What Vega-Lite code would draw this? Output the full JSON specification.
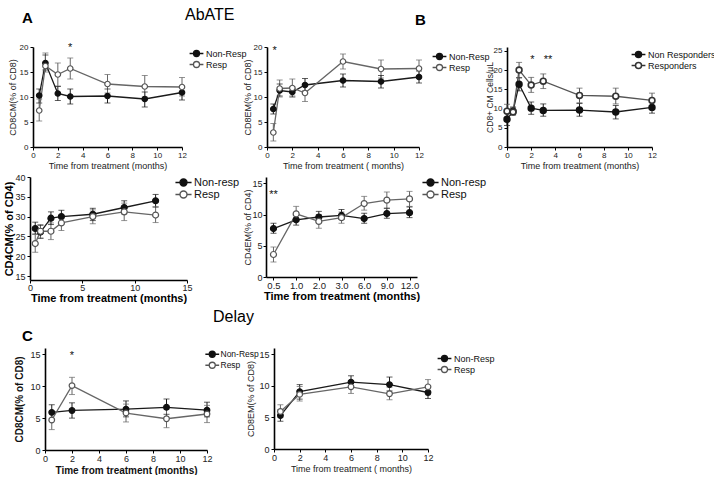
{
"$schema": "https://vega.github.io/schema/vega-lite/v6.json",
"background": "white",
"padding": 0,
"spacing": 0,
"bounds": "flush",
"resolve": {"scale": {"color": "independent", "fill": "independent", "stroke": "independent"}},
"config": {
  "view": {"stroke": null},
  "font": "Liberation Sans",
  "axis": {"grid": false, "domainColor": "#000", "domainWidth": 1.6, "tickColor": "#000", "tickWidth": 1, "tickSize": 3, "labelColor": "#222", "titleColor": "#222", "labelFont": "Liberation Sans", "titleFont": "Liberation Sans", "labelFontSize": 8, "titleFontSize": 9, "titleFontWeight": "normal", "labelFlush": false, "labelPadding": 1, "titlePadding": 2, "labelOverlap": false},
  "title": {"font": "Liberation Sans", "color": "#000", "anchor": "start", "baseline": "alphabetic", "frame": "group"},
  "legend": {"labelFont": "Liberation Sans", "labelColor": "#111"}
},
"datasets": {
  "a1": [
    {"t":0.5,"g":"Non-Resp","m":10.3,"lo":8.8,"hi":11.6},{"t":1,"g":"Non-Resp","m":16.8,"lo":15.4,"hi":18.4},{"t":2,"g":"Non-Resp","m":10.7,"lo":9.3,"hi":12.1},{"t":3,"g":"Non-Resp","m":10.1,"lo":8.6,"hi":11.6},{"t":6,"g":"Non-Resp","m":10.2,"lo":8.8,"hi":11.6},{"t":9,"g":"Non-Resp","m":9.6,"lo":8.0,"hi":11.0},{"t":12,"g":"Non-Resp","m":10.9,"lo":9.4,"hi":12.2},
    {"t":0.5,"g":"Resp","m":7.3,"lo":5.2,"hi":9.6},{"t":1,"g":"Resp","m":16.2,"lo":15.0,"hi":18.8},{"t":2,"g":"Resp","m":14.5,"lo":12.2,"hi":16.8},{"t":3,"g":"Resp","m":15.7,"lo":13.6,"hi":17.8},{"t":6,"g":"Resp","m":12.6,"lo":10.8,"hi":14.5},{"t":9,"g":"Resp","m":12.1,"lo":10.0,"hi":14.3},{"t":12,"g":"Resp","m":12.0,"lo":10.2,"hi":13.9}
  ],
  "a2": [
    {"t":0.5,"g":"Non-Resp","m":7.6,"lo":6.6,"hi":8.6},{"t":1,"g":"Non-Resp","m":11.3,"lo":10.2,"hi":12.6},{"t":2,"g":"Non-Resp","m":11.0,"lo":10.0,"hi":12.0},{"t":3,"g":"Non-Resp","m":12.4,"lo":11.2,"hi":13.7},{"t":6,"g":"Non-Resp","m":13.3,"lo":12.0,"hi":14.6},{"t":9,"g":"Non-Resp","m":13.1,"lo":11.8,"hi":14.3},{"t":12,"g":"Non-Resp","m":14.0,"lo":12.8,"hi":15.2},
    {"t":0.5,"g":"Resp","m":2.9,"lo":1.2,"hi":4.7},{"t":1,"g":"Resp","m":11.7,"lo":10.0,"hi":13.4},{"t":2,"g":"Resp","m":11.8,"lo":10.2,"hi":13.6},{"t":3,"g":"Resp","m":10.8,"lo":9.1,"hi":12.5},{"t":6,"g":"Resp","m":17.1,"lo":15.6,"hi":18.6},{"t":9,"g":"Resp","m":15.6,"lo":13.8,"hi":17.4},{"t":12,"g":"Resp","m":15.7,"lo":14.2,"hi":17.4}
  ],
  "b": [
    {"t":0,"g":"Non Responders","m":7.2,"lo":5.6,"hi":8.8},{"t":0.5,"g":"Non Responders","m":9.3,"lo":8.4,"hi":10.4},{"t":1,"g":"Non Responders","m":16.3,"lo":14.6,"hi":18.0},{"t":2,"g":"Non Responders","m":10.1,"lo":8.5,"hi":11.7},{"t":3,"g":"Non Responders","m":9.5,"lo":8.0,"hi":11.2},{"t":6,"g":"Non Responders","m":9.6,"lo":8.0,"hi":11.3},{"t":9,"g":"Non Responders","m":9.1,"lo":7.3,"hi":10.8},{"t":12,"g":"Non Responders","m":10.3,"lo":8.8,"hi":11.8},
    {"t":0,"g":"Responders","m":9.3,"lo":7.6,"hi":11.1},{"t":0.5,"g":"Responders","m":9.1,"lo":8.3,"hi":10.2},{"t":1,"g":"Responders","m":20.0,"lo":18.0,"hi":22.0},{"t":2,"g":"Responders","m":16.1,"lo":14.2,"hi":18.1},{"t":3,"g":"Responders","m":17.1,"lo":15.2,"hi":19.0},{"t":6,"g":"Responders","m":13.4,"lo":11.5,"hi":15.3},{"t":9,"g":"Responders","m":13.2,"lo":11.2,"hi":15.3},{"t":12,"g":"Responders","m":12.1,"lo":10.3,"hi":14.0}
  ],
  "a3": [
    {"t":0.5,"g":"Non-resp","m":27.0,"lo":25.6,"hi":28.6},{"t":1,"g":"Non-resp","m":26.1,"lo":24.5,"hi":27.8},{"t":2,"g":"Non-resp","m":29.6,"lo":28.0,"hi":31.2},{"t":3,"g":"Non-resp","m":30.0,"lo":28.4,"hi":31.6},{"t":6,"g":"Non-resp","m":30.6,"lo":29.0,"hi":32.1},{"t":9,"g":"Non-resp","m":32.3,"lo":30.7,"hi":34.0},{"t":12,"g":"Non-resp","m":34.0,"lo":32.4,"hi":35.6},
    {"t":0.5,"g":"Resp","m":23.2,"lo":21.0,"hi":25.5},{"t":1,"g":"Resp","m":26.3,"lo":24.6,"hi":28.0},{"t":2,"g":"Resp","m":26.3,"lo":24.2,"hi":28.4},{"t":3,"g":"Resp","m":28.4,"lo":26.5,"hi":30.4},{"t":6,"g":"Resp","m":30.0,"lo":28.2,"hi":31.7},{"t":9,"g":"Resp","m":31.2,"lo":29.0,"hi":33.4},{"t":12,"g":"Resp","m":30.4,"lo":28.5,"hi":32.5}
  ],
  "a4": [
    {"t":"0.5","g":"Non-resp","m":7.75,"lo":7.0,"hi":8.6},{"t":"1.0","g":"Non-resp","m":9.15,"lo":8.3,"hi":10.0},{"t":"2.0","g":"Non-resp","m":9.6,"lo":8.9,"hi":10.5},{"t":"3.0","g":"Non-resp","m":9.85,"lo":9.2,"hi":10.8},{"t":"6.0","g":"Non-resp","m":9.35,"lo":8.6,"hi":10.2},{"t":"9.0","g":"Non-resp","m":10.15,"lo":9.4,"hi":11.0},{"t":"12.0","g":"Non-resp","m":10.3,"lo":9.5,"hi":11.2},
    {"t":"0.5","g":"Resp","m":3.6,"lo":2.4,"hi":4.8},{"t":"1.0","g":"Resp","m":10.1,"lo":9.0,"hi":11.3},{"t":"2.0","g":"Resp","m":8.9,"lo":7.8,"hi":10.0},{"t":"3.0","g":"Resp","m":9.5,"lo":8.6,"hi":10.4},{"t":"6.0","g":"Resp","m":11.75,"lo":10.7,"hi":12.9},{"t":"9.0","g":"Resp","m":12.3,"lo":11.0,"hi":13.6},{"t":"12.0","g":"Resp","m":12.5,"lo":11.3,"hi":13.7}
  ],
  "c1": [
    {"t":0.5,"g":"Non-Resp","m":5.9,"lo":4.6,"hi":7.1},{"t":2,"g":"Non-Resp","m":6.2,"lo":5.0,"hi":7.4},{"t":6,"g":"Non-Resp","m":6.4,"lo":5.2,"hi":7.7},{"t":9,"g":"Non-Resp","m":6.7,"lo":5.6,"hi":8.0},{"t":12,"g":"Non-Resp","m":6.25,"lo":5.2,"hi":7.5},
    {"t":0.5,"g":"Resp","m":4.7,"lo":3.2,"hi":6.0},{"t":2,"g":"Resp","m":10.1,"lo":8.7,"hi":11.4},{"t":6,"g":"Resp","m":5.8,"lo":4.4,"hi":7.2},{"t":9,"g":"Resp","m":4.9,"lo":3.5,"hi":6.4},{"t":12,"g":"Resp","m":5.65,"lo":4.3,"hi":7.0}
  ],
  "c2": [
    {"t":0.5,"g":"Non-Resp","m":5.3,"lo":4.4,"hi":6.2},{"t":2,"g":"Non-Resp","m":9.1,"lo":7.9,"hi":10.2},{"t":6,"g":"Non-Resp","m":10.6,"lo":9.8,"hi":11.6},{"t":9,"g":"Non-Resp","m":10.2,"lo":9.2,"hi":11.4},{"t":12,"g":"Non-Resp","m":8.95,"lo":8.0,"hi":10.0},
    {"t":0.5,"g":"Resp","m":5.95,"lo":5.0,"hi":7.0},{"t":2,"g":"Resp","m":8.65,"lo":7.6,"hi":9.9},{"t":6,"g":"Resp","m":9.85,"lo":8.8,"hi":10.8},{"t":9,"g":"Resp","m":8.75,"lo":7.8,"hi":9.8},{"t":12,"g":"Resp","m":9.85,"lo":8.6,"hi":11.0}
  ],
  "stars": [
    {"p":"a1","t":3,"v":19.2,"s":"*"},
    {"p":"a2","t":0.6,"v":18.6,"s":"*"},
    {"p":"b","t":2.1,"v":21.8,"s":"*"},
    {"p":"b","t":3.4,"v":21.8,"s":"**"},
    {"p":"a4","t":"0.5","v":12.7,"s":"**"},
    {"p":"c1","t":2,"v":14.2,"s":"*"}
  ]
},
"vconcat": [
  {"width": 10, "height": 47, "data": {"values": [{}]}, "mark": {"type": "rect", "fill": "transparent"}, "encoding": {}},
  {
    "hconcat": [
      {"width": 33, "height": 1, "data": {"values": []}, "mark": "point", "encoding": {}},
      {
        "width": 149, "height": 100,
        "data": {"name": "a1"},
        "title": {"text": "A", "fontSize": 15, "fontWeight": "bold", "dx": -11, "offset": 16},
        "encoding": {"x": {"field": "t", "type": "quantitative", "scale": {"domain": [0, 12]}, "axis": {"values": [0,2,4,6,8,10,12], "title": "Time from treatment (months)"}}},
        "layer": [
          {"mark": {"type": "rule", "strokeWidth": 1}, "encoding": {"y": {"field": "lo", "type": "quantitative", "scale": {"domain": [0, 20]}, "axis": {"values": [0,5,10,15,20], "title": "CD8CM(% of CD8)", "labelPadding": 2, "titlePadding": 2}}, "y2": {"field": "hi"}, "color": {"field": "g", "type": "nominal", "scale": {"range": ["#1a1a1a", "#666666"]}, "legend": null}}},
          {"mark": {"type": "tick", "orient": "horizontal", "size": 6, "thickness": 1}, "encoding": {"y": {"field": "lo", "type": "quantitative", "axis": {"values": [0,5,10,15,20], "title": "CD8CM(% of CD8)", "labelPadding": 2, "titlePadding": 2}}, "color": {"field": "g", "type": "nominal", "legend": null}}},
          {"mark": {"type": "tick", "orient": "horizontal", "size": 6, "thickness": 1}, "encoding": {"y": {"field": "hi", "type": "quantitative", "axis": {"values": [0,5,10,15,20], "title": "CD8CM(% of CD8)", "labelPadding": 2, "titlePadding": 2}}, "color": {"field": "g", "type": "nominal", "legend": null}}},
          {"mark": {"type": "line", "strokeWidth": 1.3}, "encoding": {"y": {"field": "m", "type": "quantitative", "axis": {"values": [0,5,10,15,20], "title": "CD8CM(% of CD8)", "labelPadding": 2, "titlePadding": 2}}, "color": {"field": "g", "type": "nominal", "legend": null}}},
          {"mark": {"type": "point", "shape": "circle", "filled": true, "size": 30, "strokeWidth": 1.2, "opacity": 1}, "encoding": {"y": {"field": "m", "type": "quantitative", "axis": {"values": [0,5,10,15,20], "title": "CD8CM(% of CD8)", "labelPadding": 2, "titlePadding": 2}},
            "fill": {"field": "g", "type": "nominal", "scale": {"range": ["#111111", "#ffffff"]}, "legend": {"title": null, "orient": "none", "legendX": 159, "legendY": 2, "symbolType": "M-2.3,0H-1M1,0H2.3M1,0A1,1,0,1,1,-1,0A1,1,0,1,1,1,0Z", "symbolSize": 36, "symbolStrokeWidth": 1.3, "labelFontSize": 9, "labelOffset": 5, "rowPadding": -2, "padding": 0}},
            "stroke": {"field": "g", "type": "nominal", "scale": {"range": ["#111111", "#555555"]}, "legend": {"title": null, "orient": "none", "legendX": 159, "legendY": 2, "symbolType": "M-2.3,0H-1M1,0H2.3M1,0A1,1,0,1,1,-1,0A1,1,0,1,1,1,0Z", "symbolSize": 36, "symbolStrokeWidth": 1.3, "labelFontSize": 9, "labelOffset": 5, "rowPadding": -2, "padding": 0}}}},
          {"data": {"name": "stars"}, "transform": [{"filter": "datum.p == 'a1'"}], "mark": {"type": "text", "fontSize": 11, "baseline": "alphabetic", "fill": "#111"}, "encoding": {"y": {"field": "v", "type": "quantitative", "axis": {"values": [0,5,10,15,20], "title": "CD8CM(% of CD8)", "labelPadding": 2, "titlePadding": 2}}, "text": {"field": "s"}}}
        ]
      },
      {"width": 85, "height": 1, "data": {"values": []}, "mark": "point", "encoding": {}},
      {
        "width": 152, "height": 100,
        "data": {"name": "a2"},
        "title": {"text": "AbATE", "fontSize": 16, "fontWeight": "normal", "dx": -82, "offset": 20},
        "encoding": {"x": {"field": "t", "type": "quantitative", "scale": {"domain": [0, 12]}, "axis": {"values": [0,2,4,6,8,10,12], "title": "Time from treatment ( months)"}}},
        "layer": [
          {"mark": {"type": "rule", "strokeWidth": 1}, "encoding": {"y": {"field": "lo", "type": "quantitative", "scale": {"domain": [0, 20]}, "axis": {"values": [0,5,10,15,20], "title": "CD8EM(% of CD8)", "labelPadding": 2, "titlePadding": 1}}, "y2": {"field": "hi"}, "color": {"field": "g", "type": "nominal", "scale": {"range": ["#1a1a1a", "#666666"]}, "legend": null}}},
          {"mark": {"type": "tick", "orient": "horizontal", "size": 6, "thickness": 1}, "encoding": {"y": {"field": "lo", "type": "quantitative", "axis": {"values": [0,5,10,15,20], "title": "CD8EM(% of CD8)", "labelPadding": 2, "titlePadding": 1}}, "color": {"field": "g", "type": "nominal", "legend": null}}},
          {"mark": {"type": "tick", "orient": "horizontal", "size": 6, "thickness": 1}, "encoding": {"y": {"field": "hi", "type": "quantitative", "axis": {"values": [0,5,10,15,20], "title": "CD8EM(% of CD8)", "labelPadding": 2, "titlePadding": 1}}, "color": {"field": "g", "type": "nominal", "legend": null}}},
          {"mark": {"type": "line", "strokeWidth": 1.3}, "encoding": {"y": {"field": "m", "type": "quantitative", "axis": {"values": [0,5,10,15,20], "title": "CD8EM(% of CD8)", "labelPadding": 2, "titlePadding": 1}}, "color": {"field": "g", "type": "nominal", "legend": null}}},
          {"mark": {"type": "point", "shape": "circle", "filled": true, "size": 30, "strokeWidth": 1.2, "opacity": 1}, "encoding": {"y": {"field": "m", "type": "quantitative", "axis": {"values": [0,5,10,15,20], "title": "CD8EM(% of CD8)", "labelPadding": 2, "titlePadding": 1}},
            "fill": {"field": "g", "type": "nominal", "scale": {"range": ["#111111", "#ffffff"]}, "legend": {"title": null, "orient": "none", "legendX": 168, "legendY": 5, "symbolType": "M-2.3,0H-1M1,0H2.3M1,0A1,1,0,1,1,-1,0A1,1,0,1,1,1,0Z", "symbolSize": 36, "symbolStrokeWidth": 1.3, "labelFontSize": 9, "labelOffset": 5, "rowPadding": -2, "padding": 0}},
            "stroke": {"field": "g", "type": "nominal", "scale": {"range": ["#111111", "#555555"]}, "legend": {"title": null, "orient": "none", "legendX": 168, "legendY": 5, "symbolType": "M-2.3,0H-1M1,0H2.3M1,0A1,1,0,1,1,-1,0A1,1,0,1,1,1,0Z", "symbolSize": 36, "symbolStrokeWidth": 1.3, "labelFontSize": 9, "labelOffset": 5, "rowPadding": -2, "padding": 0}}}},
          {"data": {"name": "stars"}, "transform": [{"filter": "datum.p == 'a2'"}], "mark": {"type": "text", "fontSize": 11, "baseline": "alphabetic", "fill": "#111"}, "encoding": {"y": {"field": "v", "type": "quantitative", "axis": {"values": [0,5,10,15,20], "title": "CD8EM(% of CD8)", "labelPadding": 2, "titlePadding": 1}}, "text": {"field": "s"}}}
        ]
      },
      {"width": 88, "height": 1, "data": {"values": []}, "mark": "point", "encoding": {}},
      {
        "width": 145, "height": 100,
        "data": {"name": "b"},
        "title": {"text": "B", "fontSize": 15, "fontWeight": "bold", "dx": -92, "offset": 19},
        "encoding": {"x": {"field": "t", "type": "quantitative", "scale": {"domain": [0, 12]}, "axis": {"values": [0,2,4,6,8,10,12], "title": "Time from treatment (months)"}}},
        "layer": [
          {"mark": {"type": "rule", "strokeWidth": 1}, "encoding": {"y": {"field": "lo", "type": "quantitative", "scale": {"domain": [0, 25]}, "axis": {"values": [0,5,10,15,20,25], "title": "CD8+ CM Cells/µL", "labelPadding": 2, "titlePadding": -1, "titleFontSize": 8.5}}, "y2": {"field": "hi"}, "color": {"field": "g", "type": "nominal", "scale": {"range": ["#1a1a1a", "#555555"]}, "legend": null}}},
          {"mark": {"type": "tick", "orient": "horizontal", "size": 6, "thickness": 1}, "encoding": {"y": {"field": "lo", "type": "quantitative", "axis": {"values": [0,5,10,15,20,25], "title": "CD8+ CM Cells/µL", "labelPadding": 2, "titlePadding": -1, "titleFontSize": 8.5}}, "color": {"field": "g", "type": "nominal", "legend": null}}},
          {"mark": {"type": "tick", "orient": "horizontal", "size": 6, "thickness": 1}, "encoding": {"y": {"field": "hi", "type": "quantitative", "axis": {"values": [0,5,10,15,20,25], "title": "CD8+ CM Cells/µL", "labelPadding": 2, "titlePadding": -1, "titleFontSize": 8.5}}, "color": {"field": "g", "type": "nominal", "legend": null}}},
          {"mark": {"type": "line", "strokeWidth": 1.3}, "encoding": {"y": {"field": "m", "type": "quantitative", "axis": {"values": [0,5,10,15,20,25], "title": "CD8+ CM Cells/µL", "labelPadding": 2, "titlePadding": -1, "titleFontSize": 8.5}}, "color": {"field": "g", "type": "nominal", "legend": null}}},
          {"mark": {"type": "point", "shape": "circle", "filled": true, "size": 34, "strokeWidth": 1.6, "opacity": 1}, "encoding": {"y": {"field": "m", "type": "quantitative", "axis": {"values": [0,5,10,15,20,25], "title": "CD8+ CM Cells/µL", "labelPadding": 2, "titlePadding": -1, "titleFontSize": 8.5}},
            "fill": {"field": "g", "type": "nominal", "scale": {"range": ["#111111", "#ffffff"]}, "legend": {"title": null, "orient": "none", "legendX": 127, "legendY": 3, "symbolType": "M-2.3,0H-1M1,0H2.3M1,0A1,1,0,1,1,-1,0A1,1,0,1,1,1,0Z", "symbolSize": 36, "symbolStrokeWidth": 1.5, "labelFontSize": 9, "labelOffset": 5, "rowPadding": -2, "padding": 0}},
            "stroke": {"field": "g", "type": "nominal", "scale": {"range": ["#111111", "#333333"]}, "legend": {"title": null, "orient": "none", "legendX": 127, "legendY": 3, "symbolType": "M-2.3,0H-1M1,0H2.3M1,0A1,1,0,1,1,-1,0A1,1,0,1,1,1,0Z", "symbolSize": 36, "symbolStrokeWidth": 1.5, "labelFontSize": 9, "labelOffset": 5, "rowPadding": -2, "padding": 0}}}},
          {"data": {"name": "stars"}, "transform": [{"filter": "datum.p == 'b'"}], "mark": {"type": "text", "fontSize": 11, "baseline": "alphabetic", "fill": "#111"}, "encoding": {"y": {"field": "v", "type": "quantitative", "axis": {"values": [0,5,10,15,20,25], "title": "CD8+ CM Cells/µL", "labelPadding": 2, "titlePadding": -1, "titleFontSize": 8.5}}, "text": {"field": "s"}}}
        ]
      }
    ],
    "spacing": 0,
    "bounds": "flush",
    "resolve": {"scale": {"color": "independent", "fill": "independent", "stroke": "independent"}}
  },
  {"width": 1, "height": 130, "data": {"values": []}, "mark": "point", "encoding": {}},
  {
    "hconcat": [
      {"width": 30, "height": 1, "data": {"values": []}, "mark": "point", "encoding": {}},
      {
        "width": 157, "height": 103,
        "data": {"name": "a3"},
        "encoding": {"x": {"field": "t", "type": "quantitative", "scale": {"domain": [0, 15]}, "axis": {"values": [0,5,10,15], "title": "Time from treatment (months)", "labelFontSize": 9, "titleFontSize": 11, "titleFontWeight": "bold", "titleColor": "#000", "labelPadding": 0, "titlePadding": 0}}},
        "layer": [
          {"mark": {"type": "rule", "strokeWidth": 1}, "encoding": {"y": {"field": "lo", "type": "quantitative", "scale": {"domain": [15, 40]}, "axis": {"values": [15,20,25,30,35,40], "title": "CD4CM(% of CD4)", "labelFontSize": 9, "titleFontSize": 11, "titleFontWeight": "bold", "titleColor": "#000", "labelPadding": 2, "titlePadding": 0}}, "y2": {"field": "hi"}, "color": {"field": "g", "type": "nominal", "scale": {"range": ["#1a1a1a", "#666666"]}, "legend": null}}},
          {"mark": {"type": "tick", "orient": "horizontal", "size": 6, "thickness": 1}, "encoding": {"y": {"field": "lo", "type": "quantitative", "axis": {"values": [15,20,25,30,35,40], "title": "CD4CM(% of CD4)", "labelFontSize": 9, "titleFontSize": 11, "titleFontWeight": "bold", "titleColor": "#000", "labelPadding": 2, "titlePadding": 0}}, "color": {"field": "g", "type": "nominal", "legend": null}}},
          {"mark": {"type": "tick", "orient": "horizontal", "size": 6, "thickness": 1}, "encoding": {"y": {"field": "hi", "type": "quantitative", "axis": {"values": [15,20,25,30,35,40], "title": "CD4CM(% of CD4)", "labelFontSize": 9, "titleFontSize": 11, "titleFontWeight": "bold", "titleColor": "#000", "labelPadding": 2, "titlePadding": 0}}, "color": {"field": "g", "type": "nominal", "legend": null}}},
          {"mark": {"type": "line", "strokeWidth": 1.3}, "encoding": {"y": {"field": "m", "type": "quantitative", "axis": {"values": [15,20,25,30,35,40], "title": "CD4CM(% of CD4)", "labelFontSize": 9, "titleFontSize": 11, "titleFontWeight": "bold", "titleColor": "#000", "labelPadding": 2, "titlePadding": 0}}, "color": {"field": "g", "type": "nominal", "legend": null}}},
          {"mark": {"type": "point", "shape": "circle", "filled": true, "size": 36, "strokeWidth": 1.2, "opacity": 1}, "encoding": {"y": {"field": "m", "type": "quantitative", "axis": {"values": [15,20,25,30,35,40], "title": "CD4CM(% of CD4)", "labelFontSize": 9, "titleFontSize": 11, "titleFontWeight": "bold", "titleColor": "#000", "labelPadding": 2, "titlePadding": 0}},
            "fill": {"field": "g", "type": "nominal", "scale": {"range": ["#111111", "#ffffff"]}, "legend": {"title": null, "orient": "none", "legendX": 148, "legendY": 0, "symbolType": "M-2.3,0H-1M1,0H2.3M1,0A1,1,0,1,1,-1,0A1,1,0,1,1,1,0Z", "symbolSize": 49, "symbolStrokeWidth": 1.4, "labelFontSize": 11, "labelOffset": 5, "rowPadding": -4, "padding": 0}},
            "stroke": {"field": "g", "type": "nominal", "scale": {"range": ["#111111", "#555555"]}, "legend": {"title": null, "orient": "none", "legendX": 148, "legendY": 0, "symbolType": "M-2.3,0H-1M1,0H2.3M1,0A1,1,0,1,1,-1,0A1,1,0,1,1,1,0Z", "symbolSize": 49, "symbolStrokeWidth": 1.4, "labelFontSize": 11, "labelOffset": 5, "rowPadding": -4, "padding": 0}}}}
        ]
      },
      {"width": 79, "height": 1, "data": {"values": []}, "mark": "point", "encoding": {}},
      {
        "width": 151, "height": 100,
        "data": {"name": "a4"},
        "encoding": {"x": {"field": "t", "type": "ordinal", "scale": {"type": "point", "domain": ["0.5","1.0","2.0","3.0","6.0","9.0","12.0"], "padding": 0.33}, "axis": {"labelAngle": 0, "title": "Time from treatment (months)", "labelFontSize": 9.5, "titleFontSize": 11, "titleFontWeight": "bold", "titleColor": "#000", "labelPadding": 0, "titlePadding": 1}}},
        "layer": [
          {"mark": {"type": "rule", "strokeWidth": 1}, "encoding": {"y": {"field": "lo", "type": "quantitative", "scale": {"domain": [0, 15]}, "axis": {"values": [0,5,10,15], "title": "CD4EM(% of CD4)", "labelFontSize": 9, "labelPadding": 1, "titlePadding": -1}}, "y2": {"field": "hi"}, "color": {"field": "g", "type": "nominal", "scale": {"range": ["#1a1a1a", "#666666"]}, "legend": null}}},
          {"mark": {"type": "tick", "orient": "horizontal", "size": 6, "thickness": 1}, "encoding": {"y": {"field": "lo", "type": "quantitative", "axis": {"values": [0,5,10,15], "title": "CD4EM(% of CD4)", "labelFontSize": 9, "labelPadding": 1, "titlePadding": -1}}, "color": {"field": "g", "type": "nominal", "legend": null}}},
          {"mark": {"type": "tick", "orient": "horizontal", "size": 6, "thickness": 1}, "encoding": {"y": {"field": "hi", "type": "quantitative", "axis": {"values": [0,5,10,15], "title": "CD4EM(% of CD4)", "labelFontSize": 9, "labelPadding": 1, "titlePadding": -1}}, "color": {"field": "g", "type": "nominal", "legend": null}}},
          {"mark": {"type": "line", "strokeWidth": 1.3}, "encoding": {"y": {"field": "m", "type": "quantitative", "axis": {"values": [0,5,10,15], "title": "CD4EM(% of CD4)", "labelFontSize": 9, "labelPadding": 1, "titlePadding": -1}}, "color": {"field": "g", "type": "nominal", "legend": null}}},
          {"mark": {"type": "point", "shape": "circle", "filled": true, "size": 36, "strokeWidth": 1.2, "opacity": 1}, "encoding": {"y": {"field": "m", "type": "quantitative", "axis": {"values": [0,5,10,15], "title": "CD4EM(% of CD4)", "labelFontSize": 9, "labelPadding": 1, "titlePadding": -1}},
            "fill": {"field": "g", "type": "nominal", "scale": {"range": ["#111111", "#ffffff"]}, "legend": {"title": null, "orient": "none", "legendX": 159, "legendY": 0, "symbolType": "M-2.3,0H-1M1,0H2.3M1,0A1,1,0,1,1,-1,0A1,1,0,1,1,1,0Z", "symbolSize": 49, "symbolStrokeWidth": 1.4, "labelFontSize": 11, "labelOffset": 5, "rowPadding": -4, "padding": 0}},
            "stroke": {"field": "g", "type": "nominal", "scale": {"range": ["#111111", "#555555"]}, "legend": {"title": null, "orient": "none", "legendX": 159, "legendY": 0, "symbolType": "M-2.3,0H-1M1,0H2.3M1,0A1,1,0,1,1,-1,0A1,1,0,1,1,1,0Z", "symbolSize": 49, "symbolStrokeWidth": 1.4, "labelFontSize": 11, "labelOffset": 5, "rowPadding": -4, "padding": 0}}}},
          {"data": {"name": "stars"}, "transform": [{"filter": "datum.p == 'a4'"}], "mark": {"type": "text", "fontSize": 11, "baseline": "alphabetic", "fill": "#111"}, "encoding": {"y": {"field": "v", "type": "quantitative", "axis": {"values": [0,5,10,15], "title": "CD4EM(% of CD4)", "labelFontSize": 9, "labelPadding": 1, "titlePadding": -1}}, "text": {"field": "s"}}}
        ]
      }
    ],
    "spacing": 0,
    "bounds": "flush",
    "resolve": {"scale": {"color": "independent", "fill": "independent", "stroke": "independent"}}
  },
  {"width": 1, "height": 171, "data": {"values": []}, "mark": "point", "encoding": {}},
  {
    "hconcat": [
      {"width": 45, "height": 1, "data": {"values": []}, "mark": "point", "encoding": {}},
      {
        "width": 162, "height": 102,
        "data": {"name": "c1"},
        "title": {"text": "C", "fontSize": 15, "fontWeight": "bold", "dx": -23, "offset": 4},
        "encoding": {"x": {"field": "t", "type": "quantitative", "scale": {"domain": [0, 12]}, "axis": {"values": [0,2,4,6,8,10,12], "title": "Time from treatment (months)", "labelFontSize": 9, "titleFontSize": 10, "titleFontWeight": "bold", "titleColor": "#111", "labelPadding": 1, "titlePadding": 2}}},
        "layer": [
          {"mark": {"type": "rule", "strokeWidth": 1}, "encoding": {"y": {"field": "lo", "type": "quantitative", "scale": {"domain": [0, 15]}, "axis": {"values": [0,5,10,15], "title": "CD8CM(% of CD8)", "labelFontSize": 9, "titleFontSize": 10, "titleFontWeight": "bold", "titleColor": "#111", "labelPadding": 2, "titlePadding": 5}}, "y2": {"field": "hi"}, "color": {"field": "g", "type": "nominal", "scale": {"range": ["#1a1a1a", "#666666"]}, "legend": null}}},
          {"mark": {"type": "tick", "orient": "horizontal", "size": 6, "thickness": 1}, "encoding": {"y": {"field": "lo", "type": "quantitative", "axis": {"values": [0,5,10,15], "title": "CD8CM(% of CD8)", "labelFontSize": 9, "titleFontSize": 10, "titleFontWeight": "bold", "titleColor": "#111", "labelPadding": 2, "titlePadding": 5}}, "color": {"field": "g", "type": "nominal", "legend": null}}},
          {"mark": {"type": "tick", "orient": "horizontal", "size": 6, "thickness": 1}, "encoding": {"y": {"field": "hi", "type": "quantitative", "axis": {"values": [0,5,10,15], "title": "CD8CM(% of CD8)", "labelFontSize": 9, "titleFontSize": 10, "titleFontWeight": "bold", "titleColor": "#111", "labelPadding": 2, "titlePadding": 5}}, "color": {"field": "g", "type": "nominal", "legend": null}}},
          {"mark": {"type": "line", "strokeWidth": 1.3}, "encoding": {"y": {"field": "m", "type": "quantitative", "axis": {"values": [0,5,10,15], "title": "CD8CM(% of CD8)", "labelFontSize": 9, "titleFontSize": 10, "titleFontWeight": "bold", "titleColor": "#111", "labelPadding": 2, "titlePadding": 5}}, "color": {"field": "g", "type": "nominal", "legend": null}}},
          {"mark": {"type": "point", "shape": "circle", "filled": true, "size": 32, "strokeWidth": 1.2, "opacity": 1}, "encoding": {"y": {"field": "m", "type": "quantitative", "axis": {"values": [0,5,10,15], "title": "CD8CM(% of CD8)", "labelFontSize": 9, "titleFontSize": 10, "titleFontWeight": "bold", "titleColor": "#111", "labelPadding": 2, "titlePadding": 5}},
            "fill": {"field": "g", "type": "nominal", "scale": {"range": ["#111111", "#ffffff"]}, "legend": {"title": null, "orient": "none", "legendX": 163, "legendY": 2, "symbolType": "M-2.3,0H-1M1,0H2.3M1,0A1,1,0,1,1,-1,0A1,1,0,1,1,1,0Z", "symbolSize": 36, "symbolStrokeWidth": 1.3, "labelFontSize": 8.5, "labelOffset": 4, "rowPadding": -1, "padding": 0}},
            "stroke": {"field": "g", "type": "nominal", "scale": {"range": ["#111111", "#555555"]}, "legend": {"title": null, "orient": "none", "legendX": 163, "legendY": 2, "symbolType": "M-2.3,0H-1M1,0H2.3M1,0A1,1,0,1,1,-1,0A1,1,0,1,1,1,0Z", "symbolSize": 36, "symbolStrokeWidth": 1.3, "labelFontSize": 8.5, "labelOffset": 4, "rowPadding": -1, "padding": 0}}}},
          {"data": {"name": "stars"}, "transform": [{"filter": "datum.p == 'c1'"}], "mark": {"type": "text", "fontSize": 11, "baseline": "alphabetic", "fill": "#111"}, "encoding": {"y": {"field": "v", "type": "quantitative", "axis": {"values": [0,5,10,15], "title": "CD8CM(% of CD8)", "labelFontSize": 9, "titleFontSize": 10, "titleFontWeight": "bold", "titleColor": "#111", "labelPadding": 2, "titlePadding": 5}}, "text": {"field": "s"}}}
        ]
      },
      {"width": 67, "height": 1, "data": {"values": []}, "mark": "point", "encoding": {}},
      {
        "width": 154, "height": 101,
        "data": {"name": "c2"},
        "title": {"text": "Delay", "fontSize": 16, "fontWeight": "normal", "dx": -61, "offset": 23},
        "encoding": {"x": {"field": "t", "type": "quantitative", "scale": {"domain": [0, 12]}, "axis": {"values": [0,2,4,6,8,10,12], "title": "Time from treatment ( months)", "labelFontSize": 9, "labelPadding": 1, "titlePadding": 2}}},
        "layer": [
          {"mark": {"type": "rule", "strokeWidth": 1}, "encoding": {"y": {"field": "lo", "type": "quantitative", "scale": {"domain": [0, 15]}, "axis": {"values": [0,5,10,15], "title": "CD8EM(% of CD8)", "labelFontSize": 9, "labelPadding": 2, "titlePadding": 3}}, "y2": {"field": "hi"}, "color": {"field": "g", "type": "nominal", "scale": {"range": ["#1a1a1a", "#666666"]}, "legend": null}}},
          {"mark": {"type": "tick", "orient": "horizontal", "size": 6, "thickness": 1}, "encoding": {"y": {"field": "lo", "type": "quantitative", "axis": {"values": [0,5,10,15], "title": "CD8EM(% of CD8)", "labelFontSize": 9, "labelPadding": 2, "titlePadding": 3}}, "color": {"field": "g", "type": "nominal", "legend": null}}},
          {"mark": {"type": "tick", "orient": "horizontal", "size": 6, "thickness": 1}, "encoding": {"y": {"field": "hi", "type": "quantitative", "axis": {"values": [0,5,10,15], "title": "CD8EM(% of CD8)", "labelFontSize": 9, "labelPadding": 2, "titlePadding": 3}}, "color": {"field": "g", "type": "nominal", "legend": null}}},
          {"mark": {"type": "line", "strokeWidth": 1.3}, "encoding": {"y": {"field": "m", "type": "quantitative", "axis": {"values": [0,5,10,15], "title": "CD8EM(% of CD8)", "labelFontSize": 9, "labelPadding": 2, "titlePadding": 3}}, "color": {"field": "g", "type": "nominal", "legend": null}}},
          {"mark": {"type": "point", "shape": "circle", "filled": true, "size": 32, "strokeWidth": 1.2, "opacity": 1}, "encoding": {"y": {"field": "m", "type": "quantitative", "axis": {"values": [0,5,10,15], "title": "CD8EM(% of CD8)", "labelFontSize": 9, "labelPadding": 2, "titlePadding": 3}},
            "fill": {"field": "g", "type": "nominal", "scale": {"range": ["#111111", "#ffffff"]}, "legend": {"title": null, "orient": "none", "legendX": 166, "legendY": 6, "symbolType": "M-2.3,0H-1M1,0H2.3M1,0A1,1,0,1,1,-1,0A1,1,0,1,1,1,0Z", "symbolSize": 36, "symbolStrokeWidth": 1.3, "labelFontSize": 9, "labelOffset": 5, "rowPadding": -2, "padding": 0}},
            "stroke": {"field": "g", "type": "nominal", "scale": {"range": ["#111111", "#555555"]}, "legend": {"title": null, "orient": "none", "legendX": 166, "legendY": 6, "symbolType": "M-2.3,0H-1M1,0H2.3M1,0A1,1,0,1,1,-1,0A1,1,0,1,1,1,0Z", "symbolSize": 36, "symbolStrokeWidth": 1.3, "labelFontSize": 9, "labelOffset": 5, "rowPadding": -2, "padding": 0}}}}
        ]
      }
    ],
    "spacing": 0,
    "bounds": "flush",
    "resolve": {"scale": {"color": "independent", "fill": "independent", "stroke": "independent"}}
  }
]
}
